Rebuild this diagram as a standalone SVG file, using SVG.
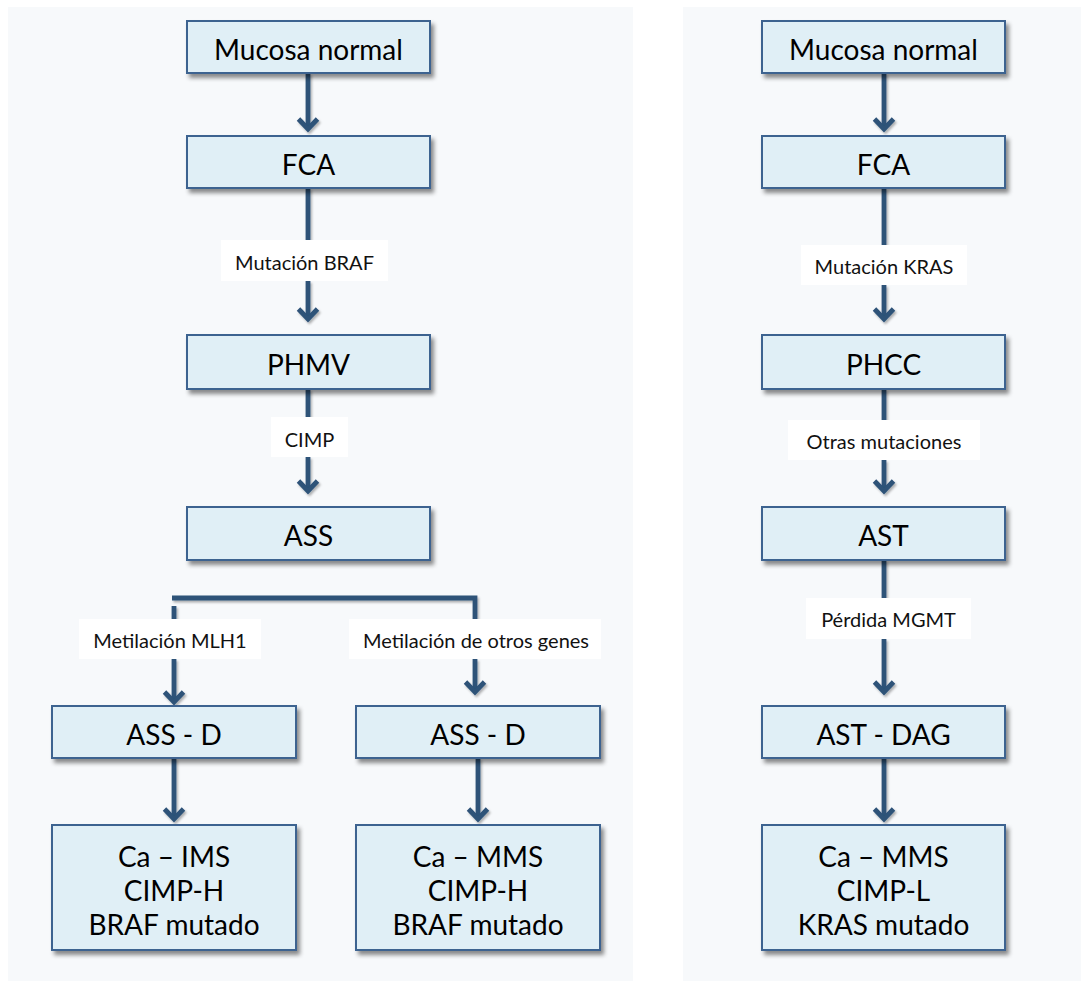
<svg xmlns="http://www.w3.org/2000/svg" width="1081" height="981" viewBox="0 0 1081 981">
  <defs>
    <filter id="shadow" x="-10%" y="-10%" width="125%" height="140%">
      <feDropShadow dx="3" dy="4" stdDeviation="2" flood-color="#000" flood-opacity="0.45"/>
    </filter>
    <filter id="lshadow" filterUnits="userSpaceOnUse" x="0" y="0" width="1081" height="981">
      <feDropShadow dx="1.5" dy="2" stdDeviation="1.2" flood-color="#000" flood-opacity="0.3"/>
    </filter>
    <marker id="chev" markerUnits="userSpaceOnUse" viewBox="-15 -13 19 26" markerWidth="19" markerHeight="26" refX="0" refY="0" orient="auto">
      <path d="M -10 -9.5 L 0 0 L -10 9.5" fill="none" stroke="#2d5278" stroke-width="4.8" stroke-linecap="butt" stroke-linejoin="miter"/>
    </marker>
  </defs>
  <style>
    .panel { fill: #f7f9fb; }
    .box { fill: #e0eff6; stroke: #3c6390; stroke-width: 2; filter: url(#shadow); }
    .big { font-family: Lato, "Liberation Sans", sans-serif; font-size: 28px; fill: #000; text-anchor: middle; }
    .lab { fill: #ffffff; }
    .small { font-family: Lato, "Liberation Sans", sans-serif; font-size: 20px; fill: #111; text-anchor: middle; }
    .conn { fill: none; stroke: #2d5278; stroke-width: 4.8; }
    .arrow { marker-end: url(#chev); }
  </style>

  <!-- background panels -->
  <rect class="panel" x="8" y="7" width="625" height="974"/>
  <rect class="panel" x="683" y="7" width="398" height="974"/>

  <!-- connectors -->
  <g id="connectors" filter="url(#lshadow)">
    <!-- left pathway -->
    <line class="conn arrow" x1="308" y1="73" x2="308" y2="129"/>
    <line class="conn" x1="308" y1="188" x2="308" y2="240"/>
    <line class="conn arrow" x1="308" y1="281" x2="308" y2="319"/>
    <line class="conn" x1="308" y1="389" x2="308" y2="417"/>
    <line class="conn arrow" x1="308" y1="457" x2="308" y2="491"/>
    <polyline class="conn" points="172,598 475,598 475,619"/>
    <line class="conn" x1="174" y1="606" x2="174" y2="619"/>
    <line class="conn arrow" x1="174" y1="659" x2="174" y2="702"/>
    <line class="conn arrow" x1="475" y1="659" x2="475" y2="692"/>
    <line class="conn arrow" x1="174" y1="758" x2="174" y2="819"/>
    <line class="conn arrow" x1="478" y1="758" x2="478" y2="819"/>
    <!-- right pathway -->
    <line class="conn arrow" x1="884" y1="73" x2="884" y2="129"/>
    <line class="conn" x1="884" y1="188" x2="884" y2="245"/>
    <line class="conn arrow" x1="884" y1="285" x2="884" y2="319"/>
    <line class="conn" x1="884" y1="389" x2="884" y2="420"/>
    <line class="conn arrow" x1="884" y1="460" x2="884" y2="491"/>
    <line class="conn" x1="884" y1="560" x2="884" y2="598"/>
    <line class="conn arrow" x1="884" y1="639" x2="884" y2="692"/>
    <line class="conn arrow" x1="884" y1="758" x2="884" y2="819"/>
  </g>

  <!-- connector labels -->
  <g id="labels">
    <rect class="lab" x="221" y="240" width="167" height="41"/>
    <text class="small" x="304.5" y="270">Mutación BRAF</text>
    <rect class="lab" x="271" y="417" width="77" height="40"/>
    <text class="small" x="309.5" y="447">CIMP</text>
    <rect class="lab" x="79" y="619" width="182" height="40"/>
    <text class="small" x="170" y="648">Metilación MLH1</text>
    <rect class="lab" x="349" y="619" width="252" height="40"/>
    <text class="small" x="476" y="648">Metilación de otros genes</text>
    <rect class="lab" x="801" y="245" width="166" height="40"/>
    <text class="small" x="884" y="274">Mutación KRAS</text>
    <rect class="lab" x="788" y="420" width="192" height="40"/>
    <text class="small" x="884" y="449">Otras mutaciones</text>
    <rect class="lab" x="806" y="598" width="165" height="41"/>
    <text class="small" x="888.5" y="627">Pérdida MGMT</text>
  </g>

  <!-- left pathway nodes -->
  <g id="l-mucosa">
    <rect class="box" x="187" y="21" width="243" height="52"/>
    <text class="big" x="308.5" y="60">Mucosa normal</text>
  </g>
  <g id="l-fca">
    <rect class="box" x="187" y="136" width="243" height="52"/>
    <text class="big" x="308.5" y="175">FCA</text>
  </g>
  <g id="l-phmv">
    <rect class="box" x="187" y="335" width="243" height="54"/>
    <text class="big" x="308.5" y="375">PHMV</text>
  </g>
  <g id="l-ass">
    <rect class="box" x="187" y="507" width="243" height="53"/>
    <text class="big" x="308.5" y="546">ASS</text>
  </g>
  <g id="l-assd-1">
    <rect class="box" x="52" y="706" width="244" height="52"/>
    <text class="big" x="174" y="745">ASS - D</text>
  </g>
  <g id="l-assd-2">
    <rect class="box" x="356" y="706" width="244" height="52"/>
    <text class="big" x="478" y="745">ASS - D</text>
  </g>
  <g id="l-ca-ims">
    <rect class="box" x="52" y="825" width="244" height="125"/>
    <text class="big" x="174" y="867">Ca – IMS</text>
    <text class="big" x="174" y="901">CIMP-H</text>
    <text class="big" x="174" y="935">BRAF mutado</text>
  </g>
  <g id="l-ca-mms">
    <rect class="box" x="356" y="825" width="244" height="125"/>
    <text class="big" x="478" y="867">Ca – MMS</text>
    <text class="big" x="478" y="901">CIMP-H</text>
    <text class="big" x="478" y="935">BRAF mutado</text>
  </g>

  <!-- right pathway nodes -->
  <g id="r-mucosa">
    <rect class="box" x="762" y="21" width="243" height="52"/>
    <text class="big" x="883.5" y="60">Mucosa normal</text>
  </g>
  <g id="r-fca">
    <rect class="box" x="762" y="136" width="243" height="52"/>
    <text class="big" x="883.5" y="175">FCA</text>
  </g>
  <g id="r-phcc">
    <rect class="box" x="762" y="335" width="243" height="54"/>
    <text class="big" x="883.5" y="375">PHCC</text>
  </g>
  <g id="r-ast">
    <rect class="box" x="762" y="507" width="243" height="53"/>
    <text class="big" x="883.5" y="546">AST</text>
  </g>
  <g id="r-ast-dag">
    <rect class="box" x="762" y="706" width="243" height="52"/>
    <text class="big" x="883.5" y="745">AST - DAG</text>
  </g>
  <g id="r-ca-mms">
    <rect class="box" x="762" y="825" width="243" height="125"/>
    <text class="big" x="883.5" y="867">Ca – MMS</text>
    <text class="big" x="883.5" y="901">CIMP-L</text>
    <text class="big" x="883.5" y="935">KRAS mutado</text>
  </g>
</svg>
